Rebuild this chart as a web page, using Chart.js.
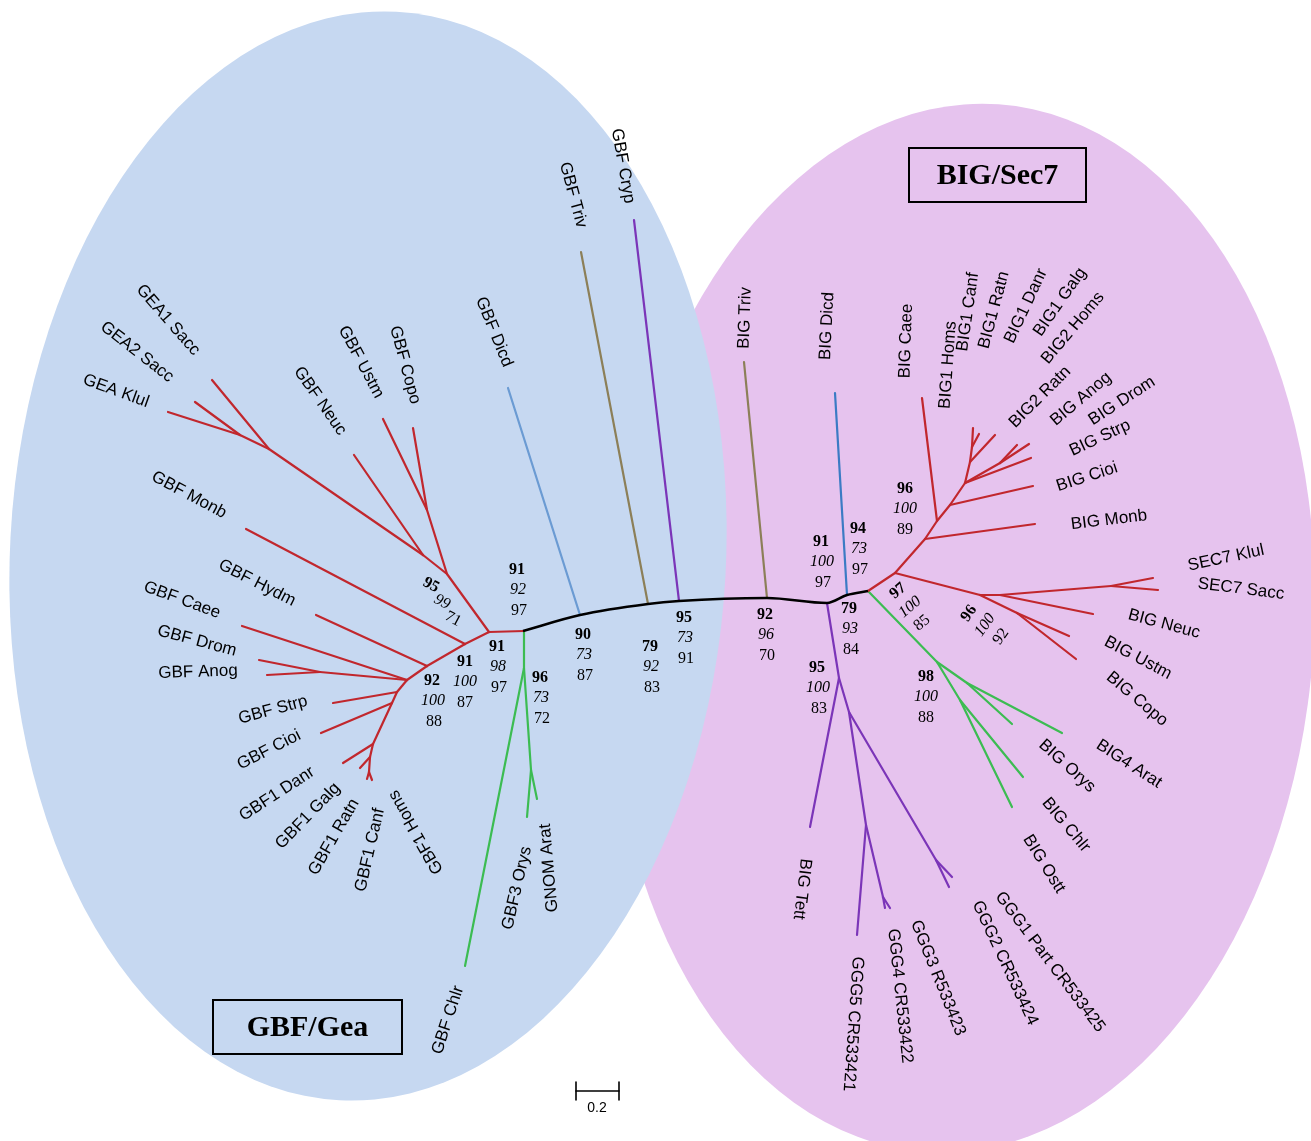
<!DOCTYPE html>
<html>
<head>
<meta charset="utf-8">
<script src="https://cdn.jsdelivr.net/npm/chart.js@4.4.0/dist/chart.umd.min.js"></script>
<style>
  html, body { margin: 0; padding: 0; background: #fff; }
  canvas { display: block; }
</style>
</head>
<body>
<canvas id="treeChart" width="1311" height="1141"></canvas>
<script>
// tree drawn on a 1311 x 1141 layout grid, y grows downward
var backbone = [[523,631],[580,615],[648,604],[679,601],[767,598],[827,603],[847,595],[868,591]];

// branches: [x1, y1, x2, y2]
var gbfRed = [
  [524,631,489,632],[489,632,447,574],[447,574,427,510],[427,510,383,419],[427,510,413,428],
  [447,574,423,555],[423,555,354,455],[423,555,269,449],[269,449,212,380],[269,449,240,435],
  [240,435,195,402],[240,435,168,412],
  [489,632,465,644],[465,644,427,666],[427,666,407,680],[407,680,397,692],[397,692,392,703],
  [392,703,373,744],[373,744,370,757],[370,757,369,772],
  [465,644,246,529],[427,666,316,615],[407,680,242,626],[407,680,320,672],[320,672,259,660],
  [320,672,267,675],[397,692,333,703],[392,703,321,733],[373,744,343,763],[370,757,360,768],
  [369,772,367,779],[369,772,372,780]
];
var gbfGreen = [
  [524,631,524,668],[524,668,465,966],[524,668,531,770],[531,770,527,817],[531,770,537,799]
];
var bigRed = [
  [868,591,895,573],[895,573,925,539],[925,539,1035,524],[925,539,937,521],[937,521,922,398],
  [937,521,950,505],[950,505,1033,486],[950,505,965,483],[965,483,1031,458],[965,483,1000,463],
  [1000,463,1017,445],[1000,463,1029,444],[965,483,970,462],[970,462,995,435],[970,462,972,447],
  [972,447,973,428],[972,447,979,434],
  [895,573,980,595],[980,595,1000,595],[1000,595,1111,586],[1111,586,1153,578],[1111,586,1158,590],
  [1000,595,1093,614],[980,595,1017,613],[1017,613,1069,636],[1017,613,1076,659]
];
var bigGreen = [
  [868,591,937,662],[937,662,967,683],[967,683,1062,733],[967,683,1012,724],
  [937,662,960,700],[960,700,1023,777],[960,700,1012,807]
];
var bigPurple = [
  [827,603,839,678],[839,678,810,827],[839,678,849,712],[849,712,936,860],[936,860,952,877],
  [936,860,949,887],[849,712,866,825],[866,825,883,897],[883,897,885,908],[883,897,890,908],
  [866,825,857,935]
];
var gbfDicd = [[580,615,508,388]];
var gbfTriv = [[648,604,581,252]];
var gbfCryp = [[679,601,634,220]];
var bigTriv = [[767,598,744,362]];
var bigDicd = [[847,595,835,393]];
var scaleBar = [[576,1091,619,1091],[576,1082,576,1100],[619,1082,619,1100]];

// taxon names and their anchors [x, y, angle]
var leafNames = [
  'GEA1 Sacc','GEA2 Sacc','GEA Klul','GBF Neuc','GBF Ustm','GBF Copo','GBF Dicd','GBF Triv','GBF Cryp',
  'GBF Monb','GBF Hydm','GBF Caee','GBF Drom','GBF Anog','GBF Strp','GBF Cioi','GBF1 Danr','GBF1 Galg',
  'GBF1 Ratn','GBF1 Canf','GBF1 Homs','GBF Chlr','GBF3 Orys','GNOM Arat',
  'BIG Triv','BIG Dicd','BIG Caee','BIG1 Homs','BIG1 Canf','BIG1 Ratn','BIG1 Danr','BIG1 Galg',
  'BIG2 Homs','BIG2 Ratn','BIG Anog','BIG Drom','BIG Strp','BIG Cioi','BIG Monb','SEC7 Klul',
  'SEC7 Sacc','BIG Neuc','BIG Ustm','BIG Copo','BIG4 Arat','BIG Orys','BIG Chlr','BIG Ostt',
  'BIG Tett','GGG5 CR533421','GGG4 CR533422','GGG3 R533423','GGG2 CR533424','GGG1 Part CR533425'
];
var leafAt = [
  [168,320,49],[137,352,38],[116,391,20],[320,401,55],[361,362,62],[405,365,75],[494,332,68],[573,195,75],[623,166,80],
  [189,495,28],[257,583,27],[182,600,20],[197,641,15],[198,672,-2],[273,710,-15],[269,750,-27],[277,794,-33],[308,816,-46],
  [334,837,-60],[370,850,-77],[416,832,-120],[448,1020,-72],[517,888,-77],[549,868,-95],
  [745,318,-88],[827,326,-87],[906,341,-88],[948,365,-86],[968,312,-82],[994,310,-75],[1026,306,-65],[1060,302,-55],
  [1073,328,-50],[1040,397,-45],[1081,399,-40],[1122,401,-33],[1100,438,-25],[1087,477,-18],[1109,520,-7],[1226,558,-12],
  [1241,589,7],[1164,624,15],[1138,658,28],[1137,699,40],[1129,764,33],[1067,766,42],[1066,825,50],[1044,864,58],
  [802,889,97],[853,1024,94],[900,996,84],[938,978,68],[1005,963,65],[1050,962,53]
];

// bootstrap support at the nodes: bold / italic / plain
var supportBold   = ['95','91','91','91','92','96','90','79','95','92','91','94','79','96','97','96','95','98'];
var supportItalic = ['99','92','98','100','100','73','73','92','73','96','100','73','93','100','100','100','100','100'];
var supportPlain  = ['71','97','97','87','88','72','87','83','91','70','97','97','84','89','85','92','83','88'];
// [x, y of middle line, step x, step y, angle]
var supportAt = [
  [442,602,11,17,28],[518,590,1,20.5,0],[498,667,1,20.5,0],[465,682,0,20.5,0],[433,701,1,20.5,0],
  [541,698,1,20.5,0],[584,655,1,20.5,0],[651,667,1,20.5,0],[685,638,1,20.5,0],[766,635,1,20.5,0],
  [822,562,1,20.5,0],[859,549,1,20.5,0],[850,629,1,20.5,0],[905,509,0,20.5,0],[910,607,12,16,-40],
  [985,625,16,11.5,-55],[818,688,1,20.5,0],[926,697,0,20.5,0]
];

// family regions [cx, cy, rx, ry, tilt]
var familyBig = [962, 628, 352, 525, 4];
var familyGbf = [368, 556, 358, 545, 3];
var familyTitles = ['GBF/Gea', 'BIG/Sec7'];
var titleBoxes = [[213,1000,402,1054],[909,148,1086,202]];

var RED = '#c1272d', GREEN = '#3cbc52', PURPLE = '#7b35b8', OLIVE = '#8c7f58';

function edgeSets(edges, color, width) {
  return edges.map(function (e) {
    return {
      data: [{x: e[0], y: e[1]}, {x: e[2], y: e[3]}],
      showLine: true,
      borderColor: color,
      borderWidth: width || 2.2,
      borderCapStyle: 'round',
      pointRadius: 0
    };
  });
}

var datasets = [].concat(
  [{
    data: backbone.map(function (p) { return {x: p[0], y: p[1]}; }),
    showLine: true, borderColor: '#000', borderWidth: 2.6, pointRadius: 0,
    borderJoinStyle: 'round', cubicInterpolationMode: 'monotone'
  }],
  edgeSets(gbfRed, RED),
  edgeSets(gbfGreen, GREEN),
  edgeSets(bigRed, RED),
  edgeSets(bigGreen, GREEN),
  edgeSets(bigPurple, PURPLE),
  edgeSets(gbfDicd, '#6b9bd3'),
  edgeSets(gbfTriv, OLIVE),
  edgeSets(gbfCryp, PURPLE),
  edgeSets(bigTriv, OLIVE),
  edgeSets(bigDicd, '#3b7bc4'),
  edgeSets(scaleBar, '#000', 1.6)
);

var treeDecor = {
  id: 'treeDecor',
  beforeDatasetsDraw: function (chart) {
    var ctx = chart.ctx, X = chart.scales.x, Y = chart.scales.y;
    var fam = [[familyBig, '#e6c3ee'], [familyGbf, '#c6d8f1']];
    fam.forEach(function (f) {
      var e = f[0];
      var cx = X.getPixelForValue(e[0]), cy = Y.getPixelForValue(e[1]);
      var rx = X.getPixelForValue(e[0] + e[2]) - cx, ry = Y.getPixelForValue(e[1] + e[3]) - cy;
      ctx.save();
      ctx.beginPath();
      ctx.ellipse(cx, cy, Math.abs(rx), Math.abs(ry), e[4] * Math.PI / 180, 0, Math.PI * 2);
      ctx.fillStyle = f[1];
      ctx.fill();
      ctx.restore();
    });
  },
  afterDatasetsDraw: function (chart) {
    var ctx = chart.ctx, X = chart.scales.x, Y = chart.scales.y;
    function put(text, x, y, ang, font) {
      ctx.save();
      ctx.translate(X.getPixelForValue(x), Y.getPixelForValue(y));
      ctx.rotate(ang * Math.PI / 180);
      ctx.font = font;
      ctx.fillText(text, 0, 0);
      ctx.restore();
    }
    ctx.save();
    ctx.fillStyle = '#000';
    ctx.textAlign = 'center';
    ctx.textBaseline = 'middle';

    leafNames.forEach(function (name, i) {
      var a = leafAt[i];
      put(name, a[0], a[1], a[2], '17px "Liberation Sans", Arial, sans-serif');
    });

    supportBold.forEach(function (b, i) {
      var s = supportAt[i];
      put(b, s[0] - s[2], s[1] - s[3], s[4], 'bold 16px "Liberation Serif", "Times New Roman", serif');
      put(supportItalic[i], s[0], s[1], s[4], 'italic 16px "Liberation Serif", "Times New Roman", serif');
      put(supportPlain[i], s[0] + s[2], s[1] + s[3], s[4], '16px "Liberation Serif", "Times New Roman", serif');
    });

    put('0.2', 597, 1108, 0, '14px "Liberation Sans", Arial, sans-serif');

    titleBoxes.forEach(function (b, i) {
      var x1 = X.getPixelForValue(b[0]), y1 = Y.getPixelForValue(b[1]);
      var x2 = X.getPixelForValue(b[2]), y2 = Y.getPixelForValue(b[3]);
      ctx.lineWidth = 2;
      ctx.strokeStyle = '#000';
      ctx.strokeRect(x1, y1, x2 - x1, y2 - y1);
      ctx.font = 'bold 30px "Liberation Serif", "Times New Roman", serif';
      ctx.fillText(familyTitles[i], (x1 + x2) / 2, (y1 + y2) / 2 + 1);
    });
    ctx.restore();
  }
};

new Chart(document.getElementById('treeChart'), {
  type: 'scatter',
  data: { datasets: datasets },
  options: {
    responsive: false,
    animation: false,
    layout: { padding: 0 },
    plugins: { legend: { display: false }, tooltip: { enabled: false } },
    scales: {
      x: { type: 'linear', min: 0, max: 1311, display: false },
      y: { type: 'linear', min: 0, max: 1141, reverse: true, display: false }
    }
  },
  plugins: [treeDecor]
});
</script>
</body>
</html>
